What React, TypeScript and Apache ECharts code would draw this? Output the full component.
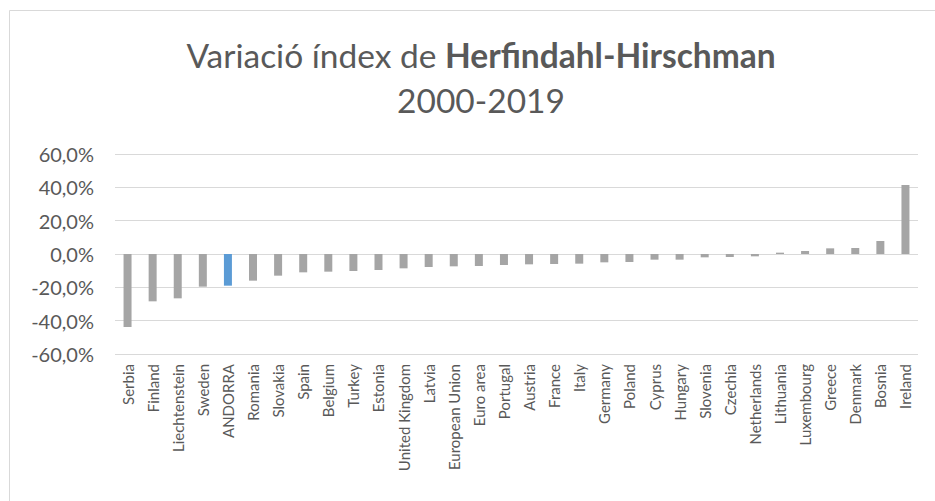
import React, { useEffect, useRef } from "react";
import * as echarts from "echarts";

const categories = [
  "Serbia", "Finland", "Liechtenstein", "Sweden", "ANDORRA", "Romania", "Slovakia", "Spain",
  "Belgium", "Turkey", "Estonia", "United Kingdom", "Latvia", "European Union", "Euro area",
  "Portugal", "Austria", "France", "Italy", "Germany", "Poland", "Cyprus", "Hungary", "Slovenia",
  "Czechia", "Netherlands", "Lithuania", "Luxembourg", "Greece", "Denmark", "Bosnia", "Ireland",
];

const values = [
  -43.8, -28.4, -26.6, -19.6, -19.0, -16.0, -13.0, -11.0,
  -10.6, -10.2, -9.6, -8.6, -7.8, -7.4, -7.2,
  -6.6, -6.2, -6.0, -5.8, -5.0, -4.8, -3.4, -3.4, -2.0,
  -1.8, -1.4, 0.8, 1.8, 3.4, 3.6, 7.8, 41.4,
];

const highlight = "ANDORRA";

const yTicks = { min: -60, max: 60, interval: 20 };

const titleLine1Normal = "Variació índex de ";
const titleLine1Bold = "Herfindahl-Hirschman";
const titleLine2 = "2000-2019";

export default function App() {
  const ref = useRef<HTMLDivElement>(null);

  useEffect(() => {
    if (!ref.current) return;
    const chart = echarts.init(ref.current, undefined, { renderer: "svg" });
    const font = "Lato, 'Open Sans', sans-serif";
    chart.setOption({
      animation: false,
      backgroundColor: "#ffffff",
      textStyle: { fontFamily: font },
      title: {
        text: `{a|${titleLine1Normal}}{b|${titleLine1Bold}}\n{a|${titleLine2}}`,
        left: 476,
        top: 27,
        textAlign: "center",
        textStyle: {
          fontWeight: "normal",
          rich: {
            a: { fontFamily: font, fontSize: 33.5, fontWeight: "normal", color: "#595959", lineHeight: 45 },
            b: { fontFamily: font, fontSize: 33.5, fontWeight: "bold", color: "#595959", lineHeight: 45 },
          },
        },
      },
      graphic: [
        {
          type: "rect",
          shape: { x: 9.5, y: 10.5, width: 960, height: 520 },
          style: { fill: "none", stroke: "#D9D9D9", lineWidth: 1 },
          silent: true,
        },
      ],
      grid: { left: 115, right: 17, top: 154, bottom: 147, containLabel: false },
      xAxis: {
        type: "category",
        data: categories,
        axisLine: { show: false },
        axisTick: { show: false },
        axisLabel: {
          rotate: 90,
          interval: 0,
          color: "#595959",
          fontSize: 15,
          fontFamily: font,
          margin: 10,
        },
      },
      yAxis: {
        type: "value",
        min: yTicks.min,
        max: yTicks.max,
        interval: yTicks.interval,
        axisLine: { show: false },
        axisTick: { show: false },
        splitLine: { lineStyle: { color: "#D9D9D9", width: 1 } },
        axisLabel: {
          color: "#595959",
          fontSize: 20,
          fontFamily: font,
          margin: 21,
          formatter: (v: number) => v.toFixed(1).replace(".", ",") + "%",
        },
      },
      series: [
        {
          type: "bar",
          data: values.map((v, i) => ({
            value: v,
            itemStyle: { color: categories[i] === highlight ? "#5B9BD5" : "#A5A5A5" },
          })),
          barWidth: 8,
        },
      ],
    });
    return () => chart.dispose();
  }, []);

  return (
    <div
      ref={ref}
      style={{ position: "fixed", left: 0, top: 0, width: 935, height: 501 }}
    />
  );
}
